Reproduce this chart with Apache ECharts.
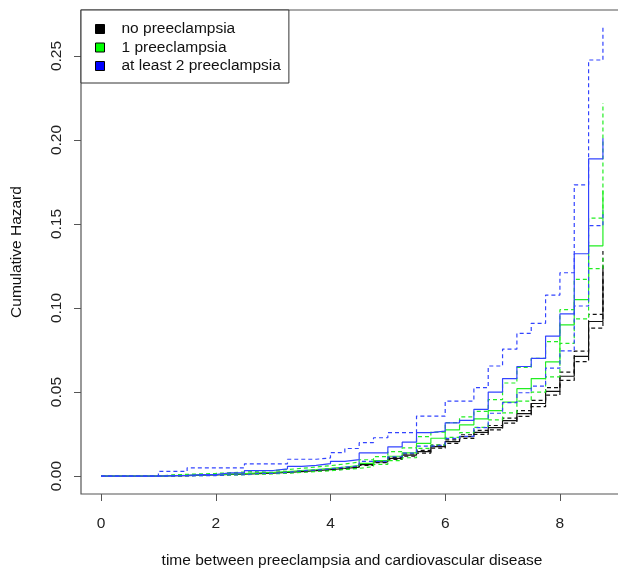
<!DOCTYPE html>
<html>
<head>
<meta charset="utf-8">
<title>Cumulative Hazard</title>
<script src="https://cdn.jsdelivr.net/npm/echarts@6.0.0/dist/echarts.min.js"></script>
<style type="text/css">
html, body { margin: 0; padding: 0; background: #fff; }
#chart { width: 618px; height: 568px; }
</style>
</head>
<body>
<div id="chart"></div>
<script>
// time points (years) where the step functions change
var times = [0, 1, 1.25, 1.5, 1.75, 2, 2.25, 2.5, 2.75, 3, 3.25, 3.5, 3.75, 4, 4.25, 4.5,
             4.75, 5, 5.25, 5.5, 5.75, 6, 6.25, 6.5, 6.75, 7, 7.25, 7.5, 7.75, 8, 8.25, 8.5, 8.75];

// no preeclampsia
var noPre      = [0, 0.0002, 0.0003, 0.0005, 0.0007, 0.0010, 0.0012, 0.0015, 0.0018, 0.0022, 0.0027, 0.0032, 0.0038, 0.0045, 0.0053, 0.0068,
                  0.0085, 0.0105, 0.0125, 0.0145, 0.0175, 0.0205, 0.0235, 0.0260, 0.0288, 0.0330, 0.0372, 0.0432, 0.0504, 0.0594, 0.0712, 0.0920, 0.1250];
var noPreUp    = [0, 0.0004, 0.0005, 0.0007, 0.0009, 0.0012, 0.0014, 0.0018, 0.0021, 0.0025, 0.0030, 0.0035, 0.0042, 0.0049, 0.0057, 0.0073,
                  0.0091, 0.0111, 0.0132, 0.0153, 0.0184, 0.0215, 0.0246, 0.0272, 0.0301, 0.0345, 0.0389, 0.0451, 0.0526, 0.0619, 0.0743, 0.0962, 0.1340];
var noPreLo    = [0, 0.0001, 0.0002, 0.0004, 0.0006, 0.0008, 0.0010, 0.0013, 0.0016, 0.0019, 0.0024, 0.0029, 0.0034, 0.0041, 0.0049, 0.0063,
                  0.0080, 0.0099, 0.0118, 0.0137, 0.0166, 0.0195, 0.0224, 0.0248, 0.0275, 0.0315, 0.0355, 0.0413, 0.0482, 0.0569, 0.0681, 0.0880, 0.1165];

// 1 preeclampsia
var onePre     = [0, 0.0003, 0.0005, 0.0007, 0.0009, 0.0012, 0.0015, 0.0019, 0.0022, 0.0027, 0.0033, 0.0039, 0.0046, 0.0054, 0.0063, 0.0075,
                  0.0092, 0.0118, 0.0138, 0.0195, 0.0225, 0.0275, 0.0305, 0.0340, 0.0390, 0.0440, 0.0520, 0.0580, 0.0680, 0.0900, 0.1050, 0.1370, 0.1700];
var onePreUp   = [0, 0.0007, 0.0010, 0.0013, 0.0016, 0.0020, 0.0024, 0.0029, 0.0033, 0.0039, 0.0046, 0.0054, 0.0062, 0.0072, 0.0083, 0.0097,
                  0.0116, 0.0145, 0.0168, 0.0235, 0.0262, 0.0318, 0.0352, 0.0385, 0.0455, 0.0554, 0.0647, 0.0700, 0.0800, 0.0990, 0.1170, 0.1535, 0.2220];
var onePreLo   = [0, 0.0001, 0.0002, 0.0003, 0.0004, 0.0006, 0.0008, 0.0011, 0.0013, 0.0017, 0.0022, 0.0027, 0.0032, 0.0039, 0.0046, 0.0056,
                  0.0070, 0.0092, 0.0109, 0.0165, 0.0185, 0.0230, 0.0258, 0.0290, 0.0335, 0.0376, 0.0446, 0.0500, 0.0590, 0.0790, 0.0935, 0.1235, 0.1300];

// at least 2 preeclampsia
var twoPre     = [0, 0.0003, 0.0004, 0.0009, 0.0009, 0.0019, 0.0019, 0.0033, 0.0033, 0.0043, 0.0058, 0.0064, 0.0074, 0.0088, 0.0098, 0.0138,
                  0.0138, 0.0174, 0.0202, 0.0258, 0.0267, 0.0317, 0.0331, 0.0397, 0.0500, 0.0580, 0.0652, 0.0700, 0.0833, 0.0965, 0.1323, 0.1888, 0.2010];
var twoPreUp   = [0, 0.0028, 0.0028, 0.0049, 0.0049, 0.0049, 0.0049, 0.0073, 0.0073, 0.0073, 0.0100, 0.0100, 0.0108, 0.0140, 0.0164, 0.0199,
                  0.0228, 0.0258, 0.0258, 0.0357, 0.0357, 0.0446, 0.0446, 0.0526, 0.0655, 0.0755, 0.0849, 0.0909, 0.1077, 0.1210, 0.1733, 0.2476, 0.2675];
var twoPreLo   = [0, 0.0000, 0.0001, 0.0003, 0.0003, 0.0008, 0.0008, 0.0016, 0.0016, 0.0022, 0.0032, 0.0036, 0.0043, 0.0053, 0.0060, 0.0088,
                  0.0088, 0.0115, 0.0136, 0.0178, 0.0185, 0.0224, 0.0236, 0.0288, 0.0374, 0.0437, 0.0496, 0.0535, 0.0642, 0.0745, 0.1012, 0.1490, 0.1580];

var xTicks = [0, 2, 4, 6, 8];
var yTicks = [0, 0.05, 0.10, 0.15, 0.20, 0.25];
var groups = ['no preeclampsia', '1 preeclampsia', 'at least 2 preeclampsia'];

var lineCols = ['#111111', '#22ee22', '#3344ff'];
var keyCols = ['#000000', '#00ff00', '#0000ff'];

function pts(vals) {
    return times.map(function (t, i) { return [t, vals[i]]; });
}

function stepLine(name, vals, col, dashed) {
    return {
        name: name,
        type: 'line',
        step: 'end',
        symbol: 'none',
        data: pts(vals),
        lineStyle: { color: col, width: 1.2, type: dashed ? [4, 3] : 'solid' },
        itemStyle: { color: col },
        emphasis: { disabled: true },
        silent: true
    };
}

var seriesList = [];
var sets = [[noPre, noPreUp, noPreLo], [onePre, onePreUp, onePreLo], [twoPre, twoPreUp, twoPreLo]];
for (var g = 0; g < 3; g++) {
    seriesList.push(stepLine(groups[g], sets[g][0], lineCols[g], false));
    seriesList.push(stepLine(groups[g], sets[g][1], lineCols[g], true));
    seriesList.push(stepLine(groups[g], sets[g][2], lineCols[g], true));
}

var myChart = echarts.init(document.getElementById('chart'), null, { renderer: 'canvas' });

var option = {
    animation: false,
    backgroundColor: '#ffffff',
    textStyle: { fontFamily: 'Liberation Sans, Arial, sans-serif' },
    grid: {
        left: 81, top: 10, right: -5, bottom: 74,
        show: true, borderColor: '#555', borderWidth: 1.2,
        containLabel: false, outerBoundsMode: 'none'
    },
    legend: {
        orient: 'vertical',
        left: 81, top: 10,
        padding: [11, 8, 9, 14],
        itemGap: 2.5,
        itemWidth: 9, itemHeight: 9,
        icon: 'rect',
        backgroundColor: '#fff',
        borderColor: '#333', borderWidth: 1,
        selectedMode: false,
        textStyle: { fontSize: 15.5, color: '#111', lineHeight: 16, padding: [0, 0, 0, 12] },
        data: groups.map(function (n, i) {
            return { name: n, itemStyle: { color: keyCols[i], borderColor: '#000', borderWidth: 1 } };
        })
    },
    xAxis: {
        type: 'value',
        min: -0.35, max: 9.1,
        name: 'time between preeclampsia and cardiovascular disease',
        nameLocation: 'middle',
        nameGap: 59,
        nameTextStyle: { fontSize: 15.5, color: '#111' },
        axisLine: { show: false, onZero: false },
        splitLine: { show: false },
        axisTick: { show: true, length: 7, customValues: xTicks, lineStyle: { color: '#555' } },
        axisLabel: { customValues: xTicks, fontSize: 15.5, color: '#222', margin: 22 }
    },
    yAxis: {
        type: 'value',
        min: -0.01067, max: 0.27737,
        name: 'Cumulative Hazard',
        nameLocation: 'middle',
        nameGap: 56,
        nameTextStyle: { fontSize: 15.5, color: '#111' },
        axisLine: { show: false, onZero: false },
        splitLine: { show: false },
        axisTick: { show: true, length: 7, customValues: yTicks, lineStyle: { color: '#555' } },
        axisLabel: {
            customValues: yTicks, fontSize: 15.5, color: '#222', rotate: 90, margin: 16,
            formatter: function (v) { return v.toFixed(2); }
        }
    },
    series: seriesList
};
myChart.setOption(option);
</script>
</body>
</html>
